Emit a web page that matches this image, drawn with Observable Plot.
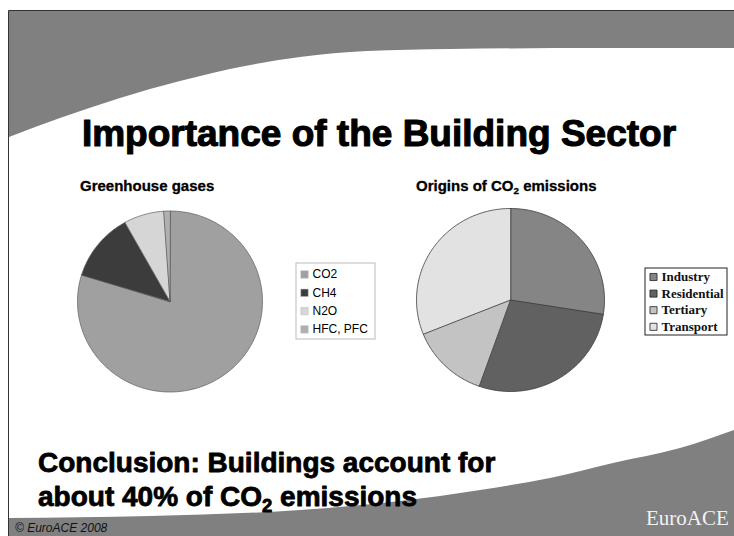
<!DOCTYPE html>
<html>
<head>
<meta charset="utf-8">
<script src="https://cdn.jsdelivr.net/npm/d3@7"></script>
<script src="https://cdn.jsdelivr.net/npm/@observablehq/plot@0.6"></script>
<style>
  html, body { margin: 0; padding: 0; background: #fff; }
  #slide { position: relative; width: 734px; height: 536px; overflow: hidden; font-family: "Liberation Sans", Arial, sans-serif; }
  #slide > svg, #slide > figure, #slide > .plot { position: absolute; left: 0; top: 0; margin: 0; }
</style>
</head>
<body>
<div id="slide"></div>
<script>
// Greenhouse gases by type (share of total, %)
const gases = ["CO2", "CH4", "N2O", "HFC, PFC"];
const gasShares = [79.7, 12.2, 7.0, 1.1];

// Origins of CO2 emissions by sector (share of total, %)
const origins = ["Industry", "Residential", "Tertiary", "Transport"];
const originShares = [27.5, 27.9, 13.5, 31.1];

// Fill colours for each category
const gasColors = ["#a0a0a0", "#3c3c3c", "#d6d6d6", "#b0b0b0"];
const originColors = ["#858585", "#616161", "#c3c3c3", "#e2e2e2"];

const W = 734, H = 536;
const slide = document.getElementById("slide");

// ---- slide background: border, grey swooshes, headings, footer ----
const bg = d3.create("svg").attr("width", W).attr("height", H);
bg.append("rect").attr("width", W).attr("height", H).attr("fill", "#fff");

const swooshTop = [[9, 137], [60, 118], [120, 98], [180, 81], [245, 66], [300, 57], [367, 51], [450, 49], [600, 48], [734, 48]];
const swooshBottom = [[9, 518], [150, 516], [300, 510], [400, 501], [480, 490], [550, 478], [613, 463], [680, 448], [734, 430]];
const curve = d3.line().curve(d3.curveMonotoneX);

bg.append("path")
  .attr("d", "M734,11 L9,11 L" + curve(swooshTop).slice(1) + " L734,11 Z")
  .attr("fill", "#808080");
bg.append("path")
  .attr("d", curve(swooshBottom) + " L734,536 L9,536 Z")
  .attr("fill", "#808080");
bg.append("path")
  .attr("d", "M8.5,536 L8.5,10.5 L734,10.5")
  .attr("fill", "none").attr("stroke", "#333").attr("stroke-width", 1);

// text with optional subscript pieces, e.g. ["CO", {sub: "2"}, " emissions"]
function addText(x, y, size, parts, opts = {}) {
  const t = bg.append("text")
    .attr("x", x).attr("y", y)
    .attr("font-family", opts.family || "'Liberation Sans', Arial, sans-serif")
    .attr("font-size", size)
    .attr("font-weight", opts.weight || "bold")
    .attr("font-style", opts.style || "normal")
    .attr("fill", opts.fill || "#000")
    .attr("text-anchor", opts.anchor || "start");
  if (opts.heavy) t.attr("stroke", opts.fill || "#000").attr("stroke-width", opts.heavy).attr("stroke-linejoin", "round");
  let shift = 0;
  for (const p of parts) {
    if (typeof p === "string") {
      const s = t.append("tspan").text(p);
      if (shift) { s.attr("dy", -shift); shift = 0; }
    } else {
      shift = size * 0.22;
      t.append("tspan").attr("font-size", size * 0.66).attr("dy", shift).text(p.sub);
    }
  }
  return t;
}

addText(379, 146, 37, ["Importance of the Building Sector"], {anchor: "middle", heavy: 1.1});
addText(80, 191, 15, ["Greenhouse gases"], {heavy: 0.3});
addText(416, 191, 15, ["Origins of CO", {sub: "2"}, " emissions"], {heavy: 0.3});
addText(38, 472, 28, ["Conclusion: Buildings account for"], {heavy: 0.8});
addText(38, 506, 28, ["about 40% of CO", {sub: "2"}, " emissions"], {heavy: 0.8});
addText(15, 532, 12, ["© EuroACE 2008"], {weight: "normal", style: "italic", fill: "#111"});
addText(646, 525, 21, ["EuroACE"], {weight: "normal", fill: "#f2f2f2", family: "'Liberation Serif', 'Times New Roman', serif"});

slide.appendChild(bg.node());

// ---- pie slices as closed polygons, angles from d3.pie (0 = 12 o'clock, clockwise) ----
function slices(names, values, cx, cy, rx, ry) {
  const arcs = d3.pie().sort(null)(values);
  const pts = [];
  arcs.forEach((a, i) => {
    const name = names[i];
    pts.push({name, x: cx, y: cy});
    const steps = Math.max(2, Math.ceil((a.endAngle - a.startAngle) / (Math.PI / 180)));
    for (let k = 0; k <= steps; k++) {
      const t = a.startAngle + (a.endAngle - a.startAngle) * k / steps;
      pts.push({name, x: cx + rx * Math.sin(t), y: cy - ry * Math.cos(t)});
    }
  });
  return pts;
}

const gasPie = slices(gases, gasShares, 169.5, 301, 92.5, 90.5);
const originPie = slices(origins, originShares, 510, 299.5, 94, 91.5);

// legend rows
const gasLegend = gases.map((name, i) => ({name, i}));
const originLegend = origins.map((name, i) => ({name, i}));
const gasBox = {x1: 296, x2: 375, y1: 263, y2: 339};
const originBox = {x1: 645, x2: 727, y1: 268, y2: 335};

const chart = Plot.plot({
  width: W,
  height: H,
  margin: 0,
  x: {domain: [0, W], range: [0, W], axis: null},
  y: {domain: [0, H], range: [0, H], axis: null},
  color: {domain: [...gases, ...origins], range: [...gasColors, ...originColors]},
  style: {background: "transparent", overflow: "visible"},
  marks: [
    Plot.line(gasPie, {x: "x", y: "y", z: "name", fill: "name", stroke: "#5a5a5a", strokeWidth: 0.7, curve: "linear-closed"}),
    Plot.line(originPie, {x: "x", y: "y", z: "name", fill: "name", stroke: "#3a3a3a", strokeWidth: 0.8, curve: "linear-closed"}),

    // legend frames
    Plot.rect([gasBox], {x1: "x1", x2: "x2", y1: "y1", y2: "y2", fill: "#fff", stroke: "#bbb", strokeWidth: 1}),
    Plot.rect([originBox], {x1: "x1", x2: "x2", y1: "y1", y2: "y2", fill: "#fff", stroke: "#222", strokeWidth: 1}),

    // greenhouse gas legend
    Plot.dot(gasLegend, {x: 304, y: d => 274 + d.i * 18.3, symbol: "square", r: 4.2, fill: "name", stroke: "#bbb", strokeWidth: 0.5}),
    Plot.text(gasLegend, {x: 312, y: d => 274 + d.i * 18.3, text: "name", textAnchor: "start", fontSize: 12, fontFamily: "'Liberation Sans', Arial, sans-serif", fill: "#000"}),

    // CO2 origins legend
    Plot.dot(originLegend, {x: 653, y: d => 276.5 + d.i * 16.6, symbol: "square", r: 4, fill: "name", stroke: "#222", strokeWidth: 0.8}),
    Plot.text(originLegend, {x: 661, y: d => 276.5 + d.i * 16.6, text: "name", textAnchor: "start", fontSize: 13, fontWeight: "bold", fontFamily: "'Liberation Serif', 'Times New Roman', serif", fill: "#111"})
  ]
});
slide.appendChild(chart);
</script>
</body>
</html>
